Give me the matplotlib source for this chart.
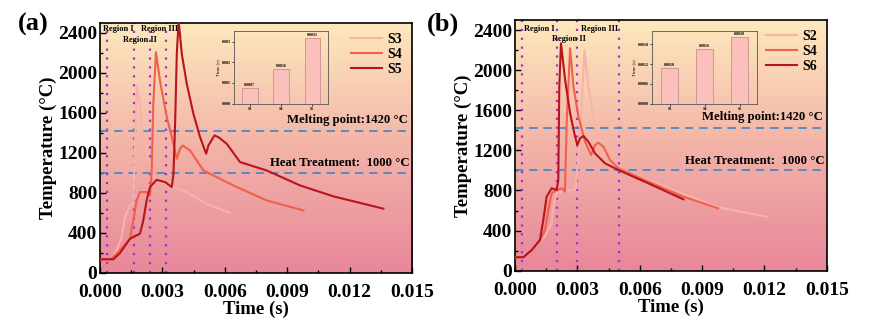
import numpy as np
import matplotlib
matplotlib.use('Agg')
import matplotlib.pyplot as plt
from matplotlib.colors import LinearSegmentedColormap
from matplotlib.ticker import MultipleLocator, FormatStrFormatter

plt.rcParams['font.family'] = 'Liberation Serif'
plt.rcParams['font.weight'] = 'bold'

# ---- panel (a) data ----
t_s3 = [0.0, 0.0005, 0.0008, 0.00104, 0.0012, 0.00144, 0.0016, 0.00168, 0.00176, 0.00189,
        0.002, 0.00224, 0.00248, 0.00288, 0.00353, 0.00417, 0.00513, 0.00625]
T_s3 = [137, 137, 226, 360, 560, 676, 690, 1300, 1874, 1724,
        1458, 1225, 992, 908, 859, 809, 692, 600]

t_s4a = [0.0, 0.0005, 0.00096, 0.00144, 0.0016, 0.00176, 0.00192, 0.00224, 0.0024, 0.00248,
         0.00256, 0.00269, 0.00288, 0.00321, 0.00345, 0.00369, 0.00385, 0.00397, 0.00433, 0.00497,
         0.00641, 0.00801, 0.00978]
T_s4a = [137, 137, 228, 343, 526, 726, 809, 809, 776, 1000,
         1691, 2207, 1924, 1558, 1358, 1142, 1242, 1275, 1225, 1025,
         875, 725, 626]

t_s5 = [0.0, 0.00064, 0.00096, 0.00144, 0.00192, 0.00208, 0.00224, 0.0024, 0.00272, 0.00313,
        0.00345, 0.00353, 0.00361, 0.00369, 0.00378, 0.00393, 0.00417, 0.00449, 0.00481,
        0.0051, 0.00521, 0.00550, 0.00569, 0.00609, 0.00673, 0.00801, 0.00962, 0.01122, 0.01362]
T_s5 = [137, 137, 200, 343, 393, 526, 726, 859, 932, 908,
        859, 992, 1500, 2191, 2523, 2191, 1891, 1591, 1358,
        1192, 1275, 1375, 1358, 1292, 1109, 1025, 875, 766, 643]

# ---- panel (b) data ----
t_s2 = [0.0, 0.0004, 0.0008, 0.0012, 0.00144, 0.00176, 0.00184, 0.002, 0.0025, 0.0029,
        0.00312, 0.00334, 0.00353, 0.00377, 0.00401, 0.00433, 0.00497, 0.00642, 0.00978, 0.01211]
T_s2 = [134, 134, 206, 300, 340, 472, 638, 772, 800, 805,
        1300, 2201, 1836, 1537, 1304, 1137, 1004, 905, 632, 539]

t_s4b = [0.0, 0.0004, 0.0008, 0.0012, 0.00144, 0.0016, 0.00176, 0.002, 0.00225, 0.0024,
         0.00249, 0.00265, 0.00281, 0.00305, 0.00337, 0.00366, 0.00385, 0.00401, 0.00425,
         0.00457, 0.00497, 0.00642, 0.0081, 0.00978]
T_s4b = [134, 134, 206, 306, 406, 605, 772, 805, 822, 788,
         1504, 2218, 1836, 1537, 1287, 1154, 1254, 1277, 1237,
         1104, 1021, 888, 738, 622]

t_s6 = [0.0, 0.0004, 0.0008, 0.0012, 0.00136, 0.00152, 0.00176, 0.002, 0.00208, 0.00213,
        0.00221, 0.00241, 0.00265, 0.00289, 0.003, 0.00313, 0.00329, 0.00353, 0.00385,
        0.00433, 0.00497, 0.00642, 0.0081]
T_s6 = [134, 134, 206, 306, 506, 738, 822, 805, 900, 1836,
        2268, 1902, 1570, 1337, 1254, 1320, 1343, 1287, 1170,
        1071, 1004, 871, 712]

# ---- insets ----
inset_a_names = ['S3', 'S4', 'S5']
inset_a_vals = [0.00078, 0.00168, 0.00317]
inset_a_labels = ['0.0007', '0.0016', '0.0031']
inset_b_names = ['S2', 'S4', 'S6']
inset_b_vals = [0.00108, 0.00166, 0.00202]
inset_b_labels = ['0.0010', '0.0016', '0.0020']

regions_a = [0.00032, 0.00163, 0.00239, 0.00316]
regions_b = [0.00032, 0.0020, 0.0030, 0.0050]

c_light = '#f7b3aa'
c_mid = '#f0604a'
c_dark = '#b8141c'
c_dot = '#9b30d9'
c_dash = '#3d85c6'

bg = LinearSegmentedColormap.from_list('bg', ['#e8879a', '#f3b3a8', '#fde9bd'])


def setup(ax, region_x, region_txt, legend_items):
    ax.imshow(np.linspace(0, 1, 256).reshape(-1, 1), cmap=bg, origin='lower',
              extent=[0, 0.015, 0, 2500], aspect='auto', zorder=0)
    ax.set_xlim(0, 0.015)
    ax.set_ylim(0, 2500)
    ax.xaxis.set_major_locator(MultipleLocator(0.003))
    ax.xaxis.set_minor_locator(MultipleLocator(0.0015))
    ax.xaxis.set_major_formatter(FormatStrFormatter('%.3f'))
    ax.yaxis.set_major_locator(MultipleLocator(400))
    ax.yaxis.set_minor_locator(MultipleLocator(200))
    ax.tick_params(which='both', direction='in', labelsize=14, width=1)
    ax.tick_params(which='major', length=4)
    ax.tick_params(which='minor', length=2.5)
    ax.tick_params(axis='x', pad=8)
    ax.tick_params(axis='y', pad=2)
    for s in ax.spines.values():
        s.set_linewidth(1.2)
    ax.set_xlabel('Time (s)', fontsize=13.5, fontweight='bold', labelpad=0)
    ax.set_ylabel('Temperature (°C)', fontsize=13.5, fontweight='bold', labelpad=1)
    for x in region_x:
        ax.axvline(x, color=c_dot, ls=(0, (1, 3)), lw=1.6, zorder=2)
    for y in [1420, 1000]:
        ax.axhline(y, color=c_dash, ls=(0, (5, 3.5)), lw=1.2, zorder=2)
    ax.text(0.0148, 1470, 'Melting point:1420 °C', ha='right', va='bottom',
            fontsize=9.2, fontweight='bold', zorder=5)
    ax.text(0.0149, 1035, 'Heat Treatment:  1000 °C', ha='right', va='bottom',
            fontsize=9.2, fontweight='bold', zorder=5)
    for (x, y, s) in region_txt:
        ax.text(x, y, s, ha='center', va='center', fontsize=6, fontweight='bold', zorder=5)
    for t, T, c, lab in legend_items:
        ax.plot(t, T, color=c, lw=1.5, label=lab, zorder=3)
    ax.legend(loc='upper right', frameon=False, fontsize=10, handlelength=2.2,
              labelspacing=0.15, handletextpad=0.4, borderaxespad=0.3)


def inset(ax, names, vals, labels, ymax, step, fmt):
    ax.set_facecolor('none')
    x = np.arange(len(names))
    ax.bar(x, vals, width=0.5, color='#fbbfbc', edgecolor='#c89090', lw=0.6)
    for xi, v, l in zip(x, vals, labels):
        ax.text(xi, v + ymax * 0.01, l, ha='center', va='bottom', fontsize=3)
    ax.set_xlim(-0.5, 2.5)
    ax.set_ylim(0, ymax)
    ax.set_xticks(x)
    ax.set_xticklabels(names)
    ax.yaxis.set_major_locator(MultipleLocator(step))
    ax.yaxis.set_major_formatter(FormatStrFormatter(fmt))
    ax.tick_params(labelsize=3, length=1.5, width=0.5, pad=0.8)
    ax.set_ylabel('Time (s)', fontsize=3.5, labelpad=1)
    for s in ax.spines.values():
        s.set_linewidth(0.6)
        s.set_color('#555555')


fig = plt.figure(figsize=(8.9, 3.26), dpi=100)
ax1 = fig.add_axes([0.1124, 0.1626, 0.3506, 0.767])
ax2 = fig.add_axes([0.5787, 0.1696, 0.3502, 0.769])

setup(ax1, regions_a,
      [(0.00087, 2443, 'Region I'), (0.00192, 2333, 'Region II'), (0.00284, 2443, 'Region III')],
      [(t_s3, T_s3, c_light, 'S3'), (t_s4a, T_s4a, c_mid, 'S4'), (t_s5, T_s5, c_dark, 'S5')])
setup(ax2, regions_b,
      [(0.00117, 2408, 'Region I'), (0.00257, 2308, 'Region II'), (0.00406, 2408, 'Region III')],
      [(t_s2, T_s2, c_light, 'S2'), (t_s4b, T_s4b, c_mid, 'S4'), (t_s6, T_s6, c_dark, 'S6')])

fig.text(0.020, 0.925, '(a)', fontsize=19, fontweight='bold', va='center')
fig.text(0.480, 0.925, '(b)', fontsize=19, fontweight='bold', va='center')

in1 = fig.add_axes([0.263, 0.682, 0.1056, 0.222])
inset(in1, inset_a_names, inset_a_vals, inset_a_labels, 0.0035, 0.001, '%.3f')
in2 = fig.add_axes([0.7326, 0.682, 0.118, 0.222])
inset(in2, inset_b_names, inset_b_vals, inset_b_labels, 0.0022, 0.0006, '%.4f')

fig.savefig('out.png', dpi=100)
